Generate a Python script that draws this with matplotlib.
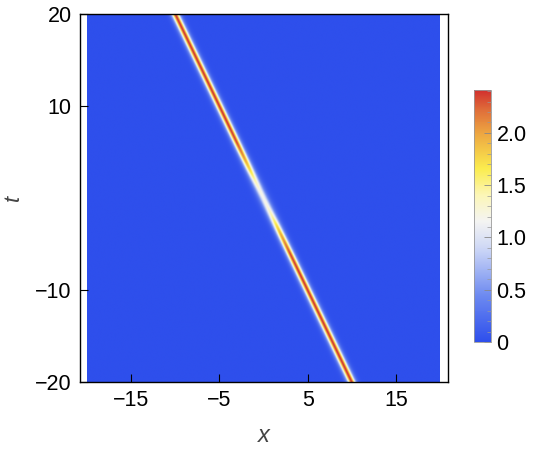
import numpy as np
import matplotlib
matplotlib.use("Agg")
import matplotlib.pyplot as plt
from matplotlib.colors import LinearSegmentedColormap

plt.rcParams["font.family"] = ["Liberation Sans", "DejaVu Sans"]

# Soliton track and peak height of |q|^2
t_knots = [-20, -8, -6, -4, -3, -2, -1, 0, 1, 2, 3, 4, 6, 8, 20]
peak_knots = [2.4, 2.4, 2.35, 2.0, 1.75, 1.45, 1.25, 1.18, 1.25, 1.45, 1.75, 2.0, 2.35, 2.4, 2.4]
velocity = -0.5      # x position moves by -0.5 per unit t
far_width = 0.38     # sech^2 half-width where the peak is 2.4
vmax = 2.41

x_ticks = [-15, -5, 5, 15]
t_ticks = [-20, -10, 10, 20]
cbar_ticks = [0, 0.5, 1.0, 1.5, 2.0]
cbar_labels = ["0", "0.5", "1.0", "1.5", "2.0"]

# Mathematica-like TemperatureMap
cmap = LinearSegmentedColormap.from_list(
    "temperature",
    [
        (0.00, "#2e4fec"),
        (0.18, "#6b88f0"),
        (0.36, "#c9d4f6"),
        (0.48, "#f4f4f2"),
        (0.58, "#fcf6b8"),
        (0.69, "#fbec4e"),
        (0.82, "#eeaa42"),
        (0.92, "#e0703a"),
        (1.00, "#d2312e"),
    ],
)

x = np.linspace(-20, 20, 900)
t = np.linspace(-20, 20, 900)
X, T = np.meshgrid(x, t)
peak = np.interp(T, t_knots, peak_knots)
width = far_width * (max(peak_knots) / peak) ** 0.3
Z = peak / np.cosh((X - velocity * T) / width) ** 2

W, H = 538, 449
fig = plt.figure(figsize=(W / 100, H / 100), dpi=100)
ax = fig.add_axes([80 / W, 67 / H, 368 / W, 368 / H])
im = ax.imshow(Z, extent=[-20, 20, -20, 20], origin="lower", cmap=cmap,
               vmin=0, vmax=vmax, aspect="auto", interpolation="bilinear")
ax.set_xlim(-20.8, 20.9)
ax.set_ylim(-20, 20)
ax.set_xticks(x_ticks)
ax.set_xticklabels(["\u221215", "\u22125", "5", "15"])
ax.set_yticks(t_ticks)
ax.set_yticklabels(["\u221220", "\u221210", "10", "20"])
ax.tick_params(direction="in", length=6, width=0.8, labelsize=15.5, pad=6)
for sp in ax.spines.values():
    sp.set_linewidth(1.0)

# axis labels placed where the reference has them
fig.text(264 / W, 1 - 436 / H, "x", fontsize=17, style="italic",
         color="#444444", ha="center", va="center")
fig.text(13 / W, 1 - 198 / H, "t", fontsize=16, style="italic",
         color="#444444", ha="center", va="center", rotation=90)

cax = fig.add_axes([474 / W, 107 / H, 17 / W, 252 / H])
cb = fig.colorbar(im, cax=cax, ticks=cbar_ticks)
cb.ax.set_yticklabels(cbar_labels)
cb.ax.tick_params(labelsize=15.5, direction="in", length=5, width=0.6,
                  color="#888888", pad=4)
cb.ax.set_yticks(np.arange(0, 2.41, 0.1), minor=True)
cb.ax.tick_params(which="minor", direction="in", length=3, width=0.5, color="#999999")
cb.outline.set_edgecolor("#999999")
cb.outline.set_linewidth(0.6)

fig.savefig("out.png", dpi=100)
